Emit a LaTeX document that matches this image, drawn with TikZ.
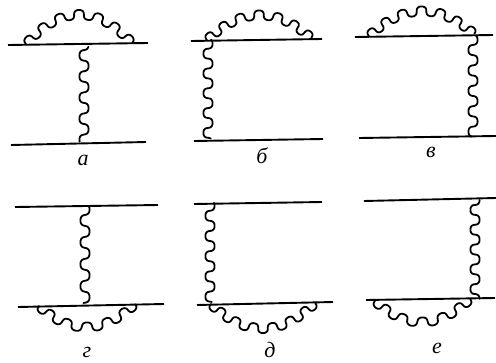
\documentclass[tikz,border=0pt]{standalone}
\usepackage{fontspec}
\setmainfont{Liberation Serif}
\tikzset{
  fermion/.style={line width=1.9pt},
  boson/.style={line width=1.8pt,line cap=round,line join=round},
  lab/.style={font=\itshape\fontsize{22}{22}\selectfont,inner sep=0pt},
  declare function={sw(\u)=\u+0.064*sin(180*\u);sg(\h)=ifthenelse(\h>0,1,-1);
    nrm(\a,\h,\s)=sqrt(\a*\a+4*\h*\h*\s*\s);}
}
% vertical wave: x1,y1,x2,y2,start phase,periods
\newcommand{\wavev}[6]{\draw[boson] plot[domain=0:1,samples=220,variable=\s]
  ({#1+(#3-#1)*\s+4.6*sin(#5+360*#6*\s)},{#2+(#4-#2)*\s-1.3*sin(2*(#5+360*#6*\s))});}
% arc wave: x1,y1,x2,y2,height (positive up, negative down),half-periods
\newcommand{\wavea}[6]{%
  \pgfmathsetmacro{\ax}{(#3-#1)/2}\pgfmathsetmacro{\ah}{abs(#5)}\pgfmathsetmacro{\as}{sg(#5)}%
  \draw[boson] plot[domain=-1:1,samples=320,variable=\u]
  ({(#1+#3)/2+\ax*sw(\u)+(4.6*sin(#6*90*(\u+1))*2*\ah*sw(\u)-1.3*sin(#6*180*(\u+1))*\ax)/nrm(\ax,\ah,sw(\u))},
   {(#2+#4)/2+(#4-#2)/2*sw(\u)-#5*(1-sw(\u)*sw(\u))+(-4.6*sin(#6*90*(\u+1))*\as*\ax-1.3*sin(#6*180*(\u+1))*2*#5*sw(\u))/nrm(\ax,\ah,sw(\u))});}
\begin{document}
\begin{tikzpicture}[x=1pt,y=-1pt]
\useasboundingbox (0,0) rectangle (496,362);
% a
\coordinate (a1) at (8,45); \coordinate (a2) at (148,43);
\coordinate (a3) at (11,145); \coordinate (a4) at (146,142);
\draw[fermion] (a1) -- (a2); \draw[fermion] (a3) -- (a4);
\wavev{84}{46}{84}{141}{110}{4.5}
\wavea{26}{44}{132}{43}{29}{13}
\node[lab] (la) at (83,160) {а};
% b
\coordinate (b1) at (191,41); \coordinate (b2) at (322,39);
\coordinate (b3) at (194,141); \coordinate (b4) at (323,139);
\draw[fermion] (b1) -- (b2); \draw[fermion] (b3) -- (b4);
\wavev{208}{41}{208}{140}{40}{5}
\wavea{207}{40}{311}{38}{24}{13}
\node[lab] (lb) at (262,156) {б};
% c
\coordinate (c1) at (355,37); \coordinate (c2) at (493,35);
\coordinate (c3) at (359,138); \coordinate (c4) at (496,136);
\draw[fermion] (c1) -- (c2); \draw[fermion] (c3) -- (c4);
\wavev{473}{37}{473}{136}{40}{4.85}
\wavea{369}{36}{474}{34}{24}{13}
\node[lab] (lc) at (431,152) {в};
% d
\coordinate (d1) at (15,207); \coordinate (d2) at (158,205);
\coordinate (d3) at (18,307); \coordinate (d4) at (164,304);
\draw[fermion] (d1) -- (d2); \draw[fermion] (d3) -- (d4);
\wavev{85}{207}{85}{304}{50}{4.42}
\wavea{39}{306}{135}{304}{-22}{11}
\node[lab] (ld) at (87,352) {г};
% e
\coordinate (e1) at (194,204); \coordinate (e2) at (322,202);
\coordinate (e3) at (197,305); \coordinate (e4) at (333,302);
\draw[fermion] (e1) -- (e2); \draw[fermion] (e3) -- (e4);
\wavev{210}{204}{210}{303}{60}{4.9}
\wavea{211}{304}{315}{303}{-25}{13}
\node[lab] (le) at (270,350) {д};
% f
\coordinate (f1) at (364,201); \coordinate (f2) at (496,198);
\coordinate (f3) at (366,300); \coordinate (f4) at (495,298);
\draw[fermion] (f1) -- (f2); \draw[fermion] (f3) -- (f4);
\wavev{475}{200}{475}{299}{90}{5}
\wavea{375}{301}{470}{299}{-22}{11}
\node[lab] (lf) at (437,348) {е};
\end{tikzpicture}
\end{document}
